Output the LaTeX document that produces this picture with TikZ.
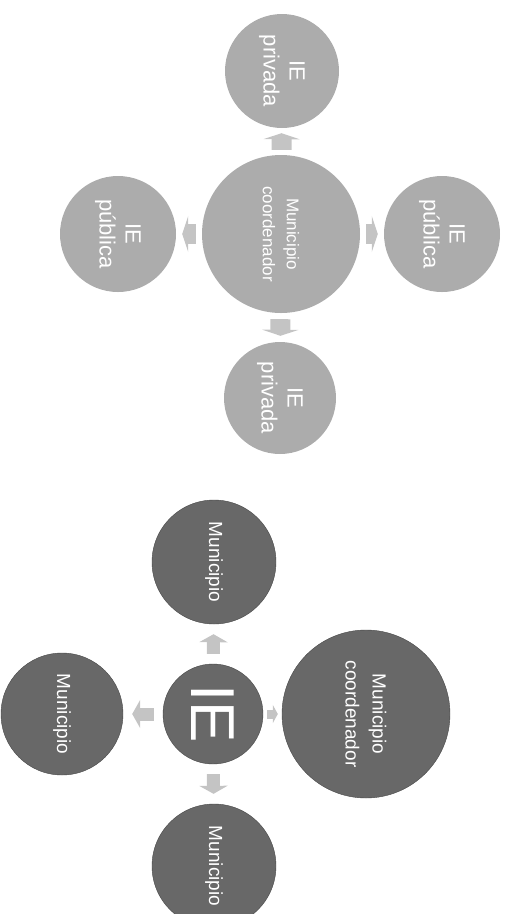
\documentclass[tikz,border=0pt]{standalone}
\usepackage{fontspec}
\setmainfont{Liberation Sans}
\definecolor{lightfill}{RGB}{172,172,172}
\definecolor{darkfill}{RGB}{104,104,104}
\definecolor{darkline}{RGB}{72,72,72}
\definecolor{arrgray}{RGB}{196,196,196}
\usetikzlibrary{arrows.meta,positioning}

\begin{document}
\begin{tikzpicture}[x=1pt,y=-1pt,
    lightball/.style={circle,fill=lightfill,inner sep=0pt,text=white,align=center,rotate=-90,
      font=\fontsize{22}{26}\selectfont},
    darkball/.style={circle,fill=darkfill,draw=darkline,thin,inner sep=0pt,text=white,align=center,rotate=-90,
      font=\fontsize{19}{27}\selectfont},
    blk/.style={line width=13pt,draw=arrgray,-{Triangle[length=8pt,width=28pt]},shorten <=#1,shorten >=#1},
    blk/.default=9pt,
    wideblk/.style={line width=20pt,draw=arrgray,-{Triangle[length=6pt,width=36pt]},shorten <=#1,shorten >=#1}]
  \clip (0,0) rectangle (507,914);
  \useasboundingbox (0,0) rectangle (507,914);
  % upper diagram
  \node[lightball,minimum size=158pt,font=\fontsize{17}{24}\selectfont] (coordT) at (281,234) {Municipio\\coordenador};
  \node[lightball,minimum size=114pt] (privA) at (282,71) {IE\\privada};
  \node[lightball,minimum size=116pt] (pubA) at (118,234) {IE\\pública};
  \node[lightball,minimum size=116pt] (pubB) at (442,234) {IE\\pública};
  \node[lightball,minimum size=112pt] (privB) at (280,398) {IE\\privada};
  \draw[wideblk=5pt] (coordT) -- (privA);
  \draw[wideblk=6pt] (coordT) -- (pubA);
  \draw[wideblk=6pt] (coordT) -- (pubB);
  \draw[wideblk=6pt] (coordT) -- (privB);
  % lower diagram
  \node[darkball,minimum size=100pt,font=\fontsize{62}{66}\selectfont] (ie) at (213,714) {IE};
  \node[darkball,minimum size=124pt] (munA) at (214,562) {Municipio};
  \node[darkball,minimum size=122pt] (munB) at (62,714) {Municipio};
  \node[darkball,minimum size=124pt] (munC) at (214,866) {Municipio};
  \node[darkball,minimum size=168pt] (coordL) at (366,714) {Municipio\\coordenador};
  \draw[blk=10pt] (ie) -- (munA);
  \draw[blk=9pt] (ie) -- (munB);
  \draw[blk=10pt] (ie) -- (munC);
  \draw[blk=4pt,line width=9pt,-{Triangle[length=5pt,width=18pt]}] (ie) -- (coordL);
\end{tikzpicture}
\end{document}
